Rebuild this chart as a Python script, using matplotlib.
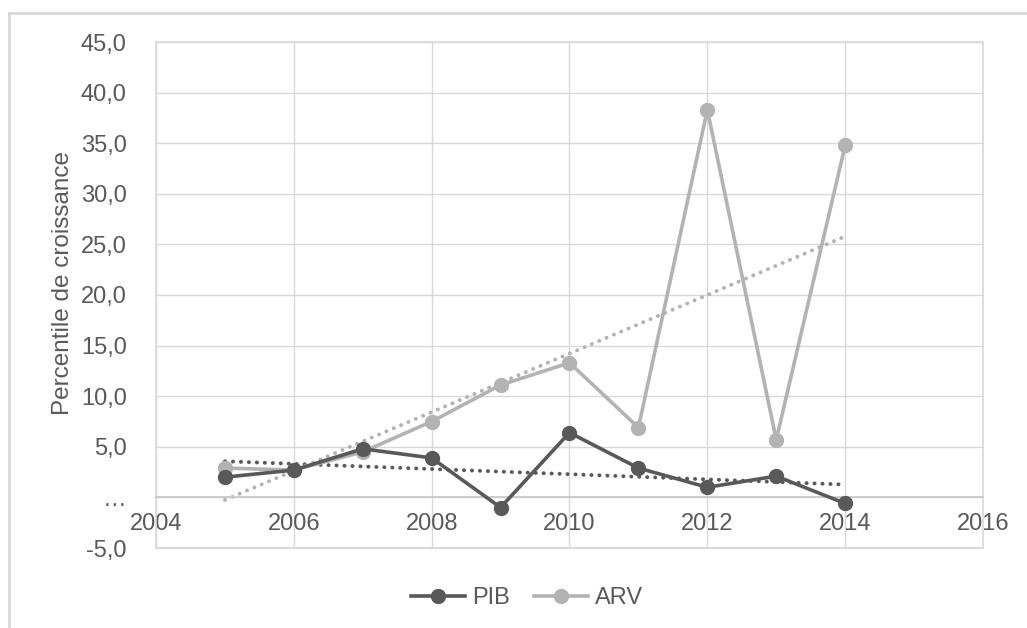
import numpy as np
import matplotlib.pyplot as plt
from matplotlib.lines import Line2D

plt.rcParams['font.family'] = ['Liberation Sans', 'DejaVu Sans']

years = [2005, 2006, 2007, 2008, 2009, 2010, 2011, 2012, 2013, 2014]
pib = [2.0, 2.7, 4.8, 3.9, -1.0, 6.4, 2.9, 1.0, 2.1, -0.6]
arv = [2.9, 2.7, 4.5, 7.5, 11.1, 13.3, 6.9, 38.3, 5.7, 34.8]
series_names = ['PIB', 'ARV']
y_ticks = [-5, 0, 5, 10, 15, 20, 25, 30, 35, 40, 45]
x_ticks = [2004, 2006, 2008, 2010, 2012, 2014, 2016]

DARK = '#595959'
LIGHT = '#b3b3b3'
GRID = '#d9d9d9'
TXT = '#595959'
FS = 17

fig = plt.figure(figsize=(10.27, 6.28), dpi=100)
ax = fig.add_axes([156 / 1027, 1 - 548 / 628, (983 - 156) / 1027, (548 - 42) / 628])

# chart area border (only top and left visible in reference)
fig.add_artist(Line2D([9 / 1027, 9 / 1027], [0, 1 - 13 / 628], transform=fig.transFigure,
                      color=GRID, lw=2))
fig.add_artist(Line2D([9 / 1027, 1], [1 - 13 / 628, 1 - 13 / 628], transform=fig.transFigure,
                      color=GRID, lw=2))

# linear trend lines (dotted)
x = np.array(years, dtype=float)
for vals, col in [(pib, DARK), (arv, LIGHT)]:
    p = np.polyfit(x, vals, 1)
    ax.plot(x, np.polyval(p, x), color=col, lw=2.8, ls=(0, (0.05, 2.0)),
            dash_capstyle='round', zorder=2)

ax.plot(years, pib, color=DARK, lw=2.6, marker='o', ms=10, zorder=4, label=series_names[0])
ax.plot(years, arv, color=LIGHT, lw=2.6, marker='o', ms=10, zorder=3, label=series_names[1])

ax.set_xlim(2004, 2016)
ax.set_ylim(-5, 45)
ax.set_xticks(x_ticks)
ax.set_yticks(y_ticks)
ylabels = ['…' if v == 0 else f'{v:.1f}'.replace('.', ',') for v in y_ticks]
ax.set_yticklabels(ylabels)
ax.grid(True, color=GRID, lw=1)
ax.set_axisbelow(True)

for s in ['left', 'top', 'right']:
    ax.spines[s].set_color(GRID)
    ax.spines[s].set_linewidth(1.2)
ax.spines['bottom'].set_position(('data', 0))
ax.spines['bottom'].set_color('#c8c8c8')
ax.spines['bottom'].set_linewidth(1.2)
# bottom edge at -5
ax.axhline(-5, color=GRID, lw=1.5, clip_on=False, zorder=0)

ax.tick_params(axis='both', length=0, labelsize=FS, colors=TXT)
ax.tick_params(axis='y', pad=21)
ax.tick_params(axis='x', pad=11)

ax.set_ylabel('Percentile de croissance', fontsize=17.5, color=TXT)
ax.yaxis.set_label_coords(-0.099, 0.524)

fig.legend(loc='center', bbox_to_anchor=(527 / 1027, 1 - 598 / 628), ncol=2, frameon=False,
           fontsize=FS, labelcolor=TXT, handlelength=2.3, handletextpad=0.3,
           columnspacing=1.0)

fig.savefig('out.png', dpi=100)
